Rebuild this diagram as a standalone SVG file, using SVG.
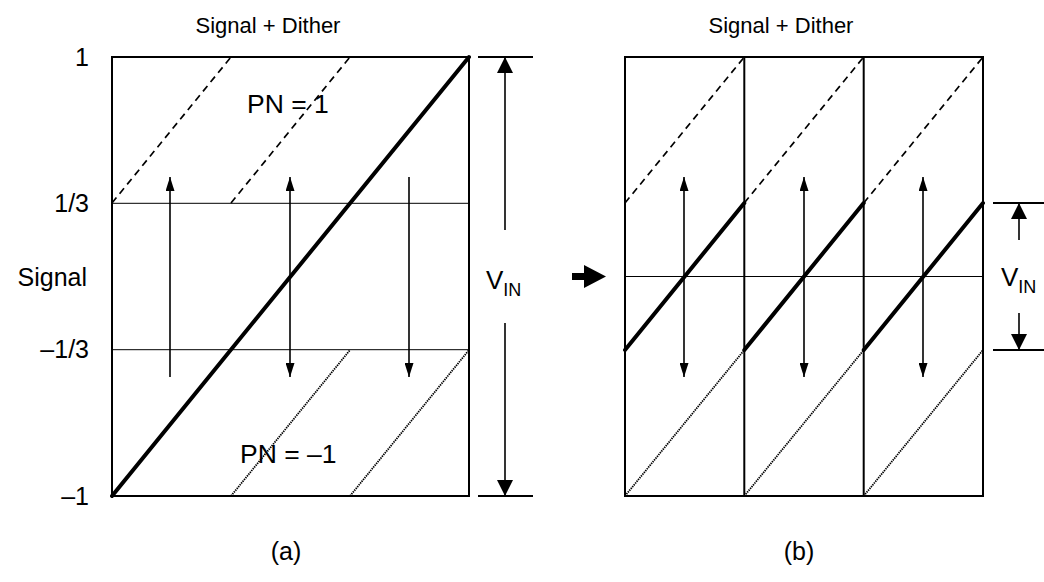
<svg xmlns="http://www.w3.org/2000/svg" width="1044" height="582" viewBox="0 0 1044 582">
<style>
text{font-family:"Liberation Sans",Arial,sans-serif;fill:#000}
.lbl{font-size:25px}
.ttl{font-size:22px}
.pn{font-size:26.5px}
.box{fill:none;stroke:#000;stroke-width:2}
.thin{stroke:#000;stroke-width:1;fill:none}
.thick{stroke:#000;stroke-width:4;fill:none;stroke-linecap:round}
.dash{stroke:#000;stroke-width:1.7;stroke-dasharray:7 5;fill:none}
.dot{stroke:#000;stroke-width:1.8;stroke-dasharray:1.4 0.9;fill:none}
.arr{stroke:#000;stroke-width:1.6;fill:none;marker-end:url(#ah)}
.arr2{stroke:#000;stroke-width:1.6;fill:none;marker-end:url(#ah);marker-start:url(#ah)}
.dim{stroke:#000;stroke-width:1.6;fill:none;marker-end:url(#dh)}
.ext{stroke:#000;stroke-width:2;fill:none}
</style>
<defs>
<marker id="ah" markerUnits="userSpaceOnUse" markerWidth="14" markerHeight="9" refX="14" refY="4.5" orient="auto-start-reverse"><path d="M0,0 L14,4.5 L0,9 z" fill="#000"/></marker>
<marker id="dh" markerUnits="userSpaceOnUse" markerWidth="16" markerHeight="16" refX="16" refY="8" orient="auto"><path d="M0,0 L16,8 L0,16 z" fill="#000"/></marker>
</defs>

<g id="panel-a">
<text class="ttl" x="268" y="33" text-anchor="middle">Signal + Dither</text>
<g id="axis-labels-a">
<text class="lbl" x="89" y="66" text-anchor="end">1</text>
<text class="lbl" x="89" y="212" text-anchor="end">1/3</text>
<text class="lbl" x="87" y="286" text-anchor="end">Signal</text>
<text class="lbl" x="89" y="358" text-anchor="end">–1/3</text>
<text class="lbl" x="89" y="505" text-anchor="end">–1</text>
</g>
<line class="thin" x1="112" y1="203.3" x2="469" y2="203.3"/>
<line class="thin" x1="112" y1="349.7" x2="469" y2="349.7"/>
<line class="dash" x1="112" y1="203" x2="231" y2="57"/>
<line class="dash" x1="231" y1="203" x2="350" y2="57"/>
<line class="dot" x1="231" y1="496" x2="350" y2="350"/>
<line class="dot" x1="350" y1="496" x2="469" y2="350"/>
<line class="thick" x1="112" y1="496" x2="469" y2="57"/>
<rect class="box" x="112" y="57" width="357" height="439"/>
<text class="pn" x="247" y="113">PN = 1</text>
<text class="pn" x="240" y="463">PN = –1</text>
<text class="lbl" x="286" y="560" text-anchor="middle">(a)</text>
</g>

<g id="panel-b">
<text class="ttl" x="781" y="33" text-anchor="middle">Signal + Dither</text>
<line class="thin" x1="625" y1="276.5" x2="983" y2="276.5"/>
<line class="dash" x1="625" y1="203" x2="744.3" y2="57"/>
<line class="dash" x1="744.3" y1="203" x2="863.7" y2="57"/>
<line class="dash" x1="863.7" y1="203" x2="983" y2="57"/>
<line class="dot" x1="625" y1="496" x2="744.3" y2="350"/>
<line class="dot" x1="744.3" y1="496" x2="863.7" y2="350"/>
<line class="dot" x1="863.7" y1="496" x2="983" y2="350"/>
<line class="thick" x1="625" y1="350" x2="744.3" y2="203"/>
<line class="thick" x1="744.3" y1="350" x2="863.7" y2="203"/>
<line class="thick" x1="863.7" y1="350" x2="983" y2="203"/>
<rect class="box" x="625" y="57" width="358" height="439"/>
<line class="box" x1="744.3" y1="57" x2="744.3" y2="496"/>
<line class="box" x1="863.7" y1="57" x2="863.7" y2="496"/>
<text class="lbl" x="799" y="560" text-anchor="middle">(b)</text>
</g>

<g id="connectors">
<line class="arr" x1="170" y1="377" x2="170" y2="177"/>
<line class="arr2" x1="290" y1="177" x2="290" y2="377"/>
<line class="arr" x1="409" y1="177" x2="409" y2="377"/>
<line class="arr2" x1="684" y1="177" x2="684" y2="377"/>
<line class="arr2" x1="804" y1="177" x2="804" y2="377"/>
<line class="arr2" x1="923" y1="177" x2="923" y2="377"/>
<path d="M572,273 L584,273 L584,265 L606,276.5 L584,288 L584,280 L572,280 z" fill="#000"/>
</g>

<g id="dim-a">
<line class="ext" x1="478" y1="57" x2="533" y2="57"/>
<line class="ext" x1="478" y1="496" x2="533" y2="496"/>
<line class="dim" x1="505" y1="230" x2="505" y2="57"/>
<line class="dim" x1="505" y1="323" x2="505" y2="496"/>
<text x="486" y="289" font-size="26">V<tspan font-size="18" dy="7">IN</tspan></text>
</g>

<g id="dim-b">
<line class="ext" x1="993" y1="203" x2="1044" y2="203"/>
<line class="ext" x1="993" y1="350" x2="1044" y2="350"/>
<line class="dim" x1="1019" y1="240" x2="1019" y2="203"/>
<line class="dim" x1="1019" y1="313" x2="1019" y2="350"/>
<text x="1001" y="286" font-size="26">V<tspan font-size="18" dy="7">IN</tspan></text>
</g>
</svg>
